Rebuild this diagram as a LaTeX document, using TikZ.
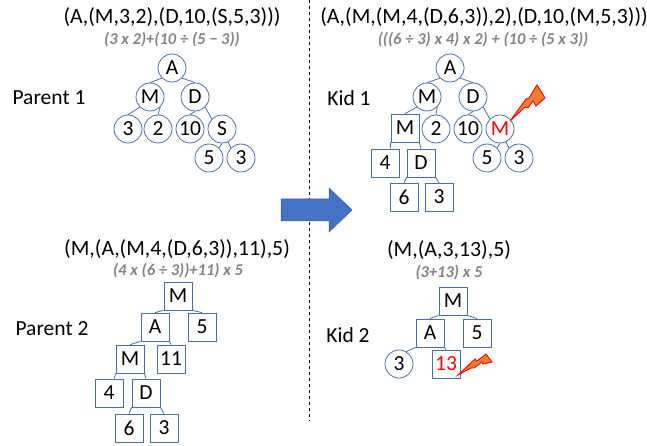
\documentclass[tikz,border=0pt]{standalone}
\usepackage{fontspec}
\setmainfont{Carlito}
\definecolor{nodeblue}{HTML}{4A6FA8}
\definecolor{arrowblue}{HTML}{4472C4}
\definecolor{boltorange}{HTML}{ED7D31}
\definecolor{exprgray}{HTML}{858585}
\tikzset{
    circ/.style={circle, draw=nodeblue, fill=white, line width=0.8pt, minimum size=28pt, inner sep=0pt, font=\fontsize{21.5}{21.5}\selectfont},
    sq/.style={rectangle, draw=nodeblue, fill=white, line width=0.8pt, minimum size=28pt, inner sep=0pt, font=\fontsize{21.5}{21.5}\selectfont},
    ttl/.style={font=\fontsize{21.8}{21.8}\selectfont},
    expr/.style={exprgray, font=\fontsize{16.5}{16.5}\selectfont\itshape\bfseries},
    who/.style={font=\fontsize{21.5}{21.5}\selectfont},
    link/.style={nodeblue, line width=0.8pt},
    bolt/.style={draw=red, fill=boltorange, line width=0.9pt, line join=miter}
}
\begin{document}
\begin{tikzpicture}[x=1pt,y=-1pt]
    \useasboundingbox (0,0) rectangle (647,446);

    % Divider
    \draw[dashed, line width=0.7pt] (309,0) -- (309,421);

    %%% PARENT 1

    \node[ttl] (ttlA) at (172,17) {(A,(M,3,2),(D,10,(S,5,3)))};
    \node[expr] (expA) at (172,40) {(3 x 2)+(10 ÷ (5 − 3))};
    \node[who] (whoA) at (49,98) {Parent 1};

    \foreach \n/\x/\y/\t in {aA/172/68/A, aM/150/97/M, aD/195/97/D, aT/128/129/3, aW/158/129/2,
        aX/190/129/10, aS/222/129/S, aF/209/158/5, aH/241/158/3} {
        \node[circ] (\n) at (\x,\y) {\t};
    };
    \foreach \a/\b in {aA.south west/aM.north, aA.south east/aD.north, aM.south west/aT.north,
        aM.south east/aW.north, aD.south/aX.north, aD.south east/aS.north west,
        aS.south/aF.north east, aS.-65/aH.north west} {
        \draw[link] (\a) -- (\b);
    };

    %%% KID 1

    \node[ttl] (ttlB) at (484,17) {(A,(M,(M,4,(D,6,3)),2),(D,10,(M,5,3)))};
    \node[expr] (expB) at (483,40) {(((6 ÷ 3) x 4) x 2) + (10 ÷ (5 x 3))};
    \node[who] (whoB) at (349,98) {Kid 1};

    \foreach \n/\x/\y/\t in {bA/450/68/A, bM/427/97/M, bD/473/97/D, bW/436/129/2,
        bX/468/129/10, bF/487/158/5, bH/519/158/3} {
        \node[circ] (\n) at (\x,\y) {\t};
    };
    \node[circ, text=red] (bR) at (500,129) {M};
    \foreach \n/\x/\y/\t in {bK/405/128/M, bV/385/163/4, bL/421/163/D, bS/404/197/6, bE/439/197/3} {
        \node[sq] (\n) at (\x,\y) {\t};
    };
    \foreach \a/\b in {bA.south west/bM.north, bA.south east/bD.north, bM.south west/bK.north,
        bM.south east/bW.north, bD.south/bX.north, bD.south east/bR.north west,
        bR.south/bF.north east, bR.-65/bH.north west, bK.south west/bV.70,
        bK.south east/bL.north, bL.south west/bS.north, bL.south east/bE.north} {
        \draw[link] (\a) -- (\b);
    };

    % Bolt on the red M
    \draw[bolt] (510,121) -- (526,99) -- (529,98) -- (537,85) -- (545,98) -- (536,106)
        -- (533,101) -- (528,108) -- (525,107) -- cycle;

    %%% PARENT 2

    \node[ttl] (ttlC) at (177,249) {(M,(A,(M,4,(D,6,3)),11),5)};
    \node[expr] (expC) at (178,271) {(4 x (6 ÷ 3))+11) x 5};
    \node[who] (whoC) at (52,329) {Parent 2};

    \foreach \n/\x/\y/\t in {cM/178/296/M, cA/155/327/A, cF/202/327/5, cK/130/359/M, cE/171/359/11,
        cV/109/393/4, cD/146/393/D, cS/129/428/6, cH/164/428/3} {
        \node[sq] (\n) at (\x,\y) {\t};
    };
    \foreach \a/\b in {cM.south west/cA.north, cM.south east/cF.north, cA.south west/cK.north,
        cA.south east/cE.north, cK.south west/cV.70, cK.south east/cD.north,
        cD.south west/cS.north, cD.south east/cH.north} {
        \draw[link] (\a) -- (\b);
    };

    %%% KID 2

    \node[ttl] (ttlD) at (449,250) {(M,(A,3,13),5)};
    \node[expr] (expD) at (449,273) {(3+13) x 5};
    \node[who] (whoD) at (348,335) {Kid 2};

    \foreach \n/\x/\y/\t in {dM/453/301/M, dA/430/333/A, dF/477/333/5} {
        \node[sq] (\n) at (\x,\y) {\t};
    };
    \node[circ] (dT) at (399,364) {3};
    \node[sq, text=red] (dR) at (446,364) {13};
    \foreach \a/\b in {dM.south west/dA.north, dM.south east/dF.north,
        dA.south west/dT.60, dA.south east/dR.north} {
        \draw[link] (\a) -- (\b);
    };

    % Bolt on the red 13
    \draw[bolt] (458,375) -- (475,359) -- (477,361) -- (486,354) -- (492,362) -- (483,364)
        -- (482,362) -- (474,368) -- (471,368) -- cycle;

    % Big arrow
    \draw[fill=arrowblue, draw=arrowblue!80!black, line width=0.5pt] (281,199) -- (329,199) -- (329,188) -- (352,210)
        -- (329,232) -- (329,221) -- (281,221) -- cycle;
\end{tikzpicture}
\end{document}
